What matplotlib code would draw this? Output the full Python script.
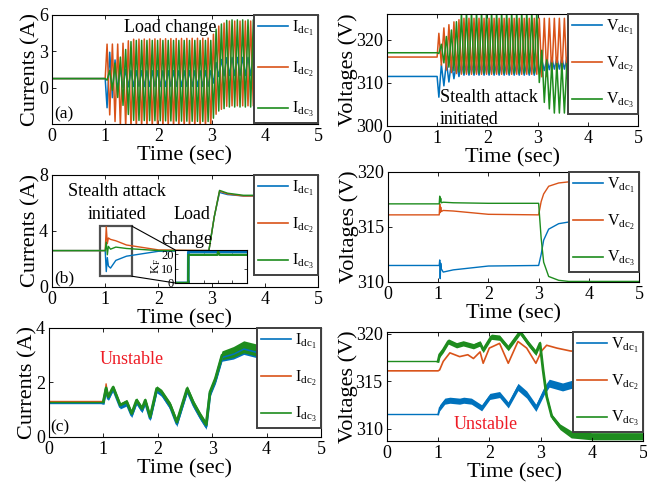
import matplotlib
matplotlib.use("Agg")
import matplotlib.pyplot as plt
import numpy as np
from matplotlib.patches import Rectangle, ConnectionPatch

plt.rcParams["font.family"] = ["Liberation Serif", "DejaVu Serif"]
plt.rcParams["mathtext.fontset"] = "custom"
plt.rcParams["mathtext.rm"] = "Liberation Serif"
plt.rcParams["mathtext.it"] = "Liberation Serif:italic"

C1, C2, C3 = "#0072BD", "#D95319", "#1E8C1E"
RED = "#EE1C25"

# ---- (a) oscillating case: envelope knots ----
osc_freq = 10.0  # Hz
a_env_t = [1.0, 1.04, 1.1, 1.3, 1.5, 3.0, 3.1, 3.3, 5.0]
a_i_pre = 0.75
a_i1_up = [0.75, 3.3, 2.8, 1.6, 1.4, 1.4, 2.2, 2.5, 2.5]
a_i1_lo = [0.75, -2.0, -1.0, 0.0, 0.1, 0.1, 0.9, 1.0, 1.0]
a_i2_up = [0.75, 4.0, 3.6, 3.6, 4.0, 4.1, 5.0, 5.5, 5.5]
a_i2_lo = [0.75, -1.5, -2.5, -3.2, -3.3, -3.3, -2.0, -1.5, -1.5]
a_i3_up = [0.75, 0.9, 1.6, 2.6, 3.9, 3.9, 5.0, 5.6, 5.6]
a_i3_lo = [0.75, 0.6, 0.0, -1.2, -2.7, -2.8, -2.0, -1.6, -1.6]

a_v_pre = [311.5, 316.0, 317.0]
a_v1_up = [311.5, 312.0, 315.0, 314.8, 314.5, 314.5, 315.5, 315.8, 315.8]
a_v1_lo = [311.5, 306.0, 309.0, 310.8, 311.8, 311.8, 312.8, 313.2, 313.2]
a_v2_up = [316.0, 322.3, 322.5, 324.0, 325.0, 325.0, 325.0, 325.0, 325.0]
a_v2_lo = [316.0, 316.0, 313.5, 312.3, 312.0, 312.0, 311.3, 311.7, 311.7]
a_v3_up = [317.0, 317.4, 319.5, 322.5, 326.5, 326.5, 316.0, 314.5, 314.5]
a_v3_lo = [317.0, 316.8, 315.0, 313.0, 312.3, 312.3, 306.0, 303.0, 303.0]

# ---- (b) stable case ----
b_i_t = [0, 1.0, 1.02, 1.04, 1.06, 1.1, 1.2, 1.4, 2.0, 2.95, 3.05, 3.15, 3.3, 3.6, 5.0]
b_i1 = [2.6, 2.6, 1.1, 2.1, 1.5, 1.35, 1.9, 2.2, 2.55, 2.6, 5.0, 6.75, 6.6, 6.5, 6.5]
b_i2 = [2.6, 2.6, 4.3, 3.1, 3.5, 3.4, 3.3, 3.0, 2.65, 2.6, 5.0, 6.85, 6.65, 6.5, 6.5]
b_i3 = [2.6, 2.6, 3.2, 2.3, 2.9, 2.7, 2.85, 2.75, 2.6, 2.6, 5.0, 6.9, 6.7, 6.55, 6.55]

b_v_t = [0, 1.02, 1.03, 1.04, 1.05, 1.06, 1.1, 1.3, 2.0, 3.0, 3.05, 3.1, 3.2, 3.4, 3.6, 4.0, 5.0]
b_v1 = [311.5, 311.5, 312.0, 310.3, 311.7, 311.2, 310.9, 311.1, 311.45, 311.5, 312.5, 313.8, 314.8, 315.3, 315.45, 315.5, 315.5]
b_v2 = [316.1, 316.1, 317.1, 316.3, 316.8, 316.4, 316.5, 316.45, 316.15, 316.1, 317.3, 318.0, 318.7, 319.0, 319.1, 319.1, 319.1]
b_v3 = [317.1, 317.1, 317.8, 317.3, 317.6, 317.2, 317.25, 317.2, 317.15, 317.15, 314.0, 311.8, 310.5, 310.15, 310.05, 310.05, 310.05]

kf_t = [0, 0.92, 0.93, 2.95, 3.0, 3.1, 5.0]
kf_1 = [0, 0, 21.5, 21.5, 22.0, 21.5, 21.5]
kf_3 = [0, 0, 19.5, 19.5, 21.8, 19.5, 19.5]
zoom_t = (0.9, 1.5)
zoom_y = (0.77, 4.35)

# ---- (c) unstable case (centre of band + half width) ----
c_i_t = [0, 1.0, 1.05, 1.09, 1.15, 1.18, 1.31, 1.43, 1.52, 1.61, 1.71, 1.77, 1.86,
         1.98, 2.07, 2.23, 2.35, 2.54, 2.66, 2.78, 2.89, 2.96, 3.06, 3.18, 3.39,
         3.58, 3.82, 4.2, 5.0]
c_i3 = [1.3, 1.3, 1.8, 1.47, 1.72, 1.83, 1.17, 1.29, 0.86, 1.35, 1.04, 1.35, 0.74,
        1.78, 1.65, 1.17, 0.55, 1.78, 1.23, 0.8, 0.45, 1.65, 2.15, 3.0, 3.12,
        3.31, 3.19, 3.1, 3.05]
c_i_w = [0.02, 0.03, 0.07, 0.08, 0.08, 0.08, 0.08, 0.09, 0.09, 0.09, 0.09, 0.09, 0.09,
         0.1, 0.1, 0.11, 0.11, 0.11, 0.11, 0.11, 0.11, 0.11, 0.13, 0.16, 0.2,
         0.22, 0.22, 0.22, 0.22]
c_i1_off = -0.06
c_i2_spike_t = [1.0, 1.03, 1.05, 1.08]
c_i2_spike = [1.3, 1.6, 1.95, 1.55]

c_v_t = [0, 1.0, 1.03, 1.1, 1.2, 1.36, 1.49, 1.69, 1.82, 1.88, 2.04, 2.2, 2.37, 2.6,
         2.76, 2.91, 2.99, 3.05, 3.12, 3.22, 3.38, 3.6, 4.0, 5.0]
c_v3 = [317.1, 317.1, 317.8, 318.3, 319.2, 318.8, 319.0, 318.7, 319.0, 318.3, 319.7,
        319.6, 318.5, 320.2, 319.0, 318.0, 319.0, 316.2, 313.4, 311.3, 310.2, 309.4,
        309.2, 309.2]
c_v3_w = [0.03, 0.03, 0.28, 0.28, 0.28, 0.28, 0.28, 0.28, 0.28, 0.28, 0.28, 0.28, 0.28,
          0.28, 0.28, 0.28, 0.28, 0.2, 0.2, 0.25, 0.3, 0.38, 0.38, 0.38]
c_v2_t = [0, 1.0, 1.03, 1.1, 1.23, 1.42, 1.58, 1.69, 1.82, 1.88, 2.0, 2.2, 2.37, 2.56,
          2.73, 2.91, 3.02, 3.12, 3.32, 3.58, 3.78, 5.0]
c_v2 = [316.1, 316.1, 316.2, 317.1, 318.0, 317.6, 317.8, 317.4, 318.1, 316.9, 318.5,
        319.0, 316.9, 319.2, 318.5, 316.9, 318.2, 318.8, 318.5, 318.2, 318.1, 318.1]
c_v1_t = [0, 1.0, 1.03, 1.13, 1.23, 1.42, 1.5, 1.65, 1.85, 2.01, 2.2, 2.37, 2.56, 2.73,
          2.91, 3.08, 3.17, 3.43, 3.69, 4.2, 5.0]
c_v1 = [311.5, 311.5, 312.2, 312.9, 313.0, 312.9, 313.0, 312.9, 312.2, 313.4, 313.6,
        312.5, 314.4, 313.6, 312.2, 314.1, 314.8, 314.4, 314.8, 314.6, 314.6]
c_v1_w = [0.03, 0.03, 0.32, 0.32, 0.32, 0.32, 0.32, 0.32, 0.32, 0.32, 0.32, 0.32, 0.38, 0.38,
          0.38, 0.42, 0.42, 0.42, 0.42, 0.42, 0.42]

i_labels = [r"$\mathrm{I}_{\mathrm{dc}_{%d}}$" % k for k in (1, 2, 3)]
v_labels = [r"$\mathrm{V}_{\mathrm{dc}_{%d}}$" % k for k in (1, 2, 3)]


def zigzag(pre, env_t, up, lo, start_high):
    """alternate between upper/lower envelope every half period after t=1"""
    half = 0.5 / osc_freq
    tp = np.arange(env_t[0] + 0.035, 5.0, half)
    u = np.interp(tp, env_t, up)
    l = np.interp(tp, env_t, lo)
    k = np.arange(len(tp))
    hi = (k % 2 == 0) if start_high else (k % 2 == 1)
    vals = np.where(hi, u, l)
    t = np.concatenate([[0.0, env_t[0]], tp])
    y = np.concatenate([[pre, pre], vals])
    return t, y


def style(ax, ylim, yticks, ylabel, ypad):
    ax.set_xlim(0, 5)
    ax.set_ylim(*ylim)
    ax.set_yticks(yticks)
    ax.set_xticks(range(6))
    ax.tick_params(direction="in", top=True, right=True, labelsize=13,
                   length=3, width=0.6, pad=3)
    ax.set_xlabel("Time (sec)", fontsize=16, labelpad=1)
    ax.set_ylabel(ylabel, fontsize=16, labelpad=ypad)
    for s in ax.spines.values():
        s.set_linewidth(0.8)


def legend(ax, labels, spacing=1.1):
    handles = [plt.Line2D([], [], color=c, lw=1.2) for c in (C1, C2, C3)]
    lg = ax.legend(handles, labels, loc="upper right", bbox_to_anchor=(1.0, 1.0),
                   borderaxespad=0.0, fontsize=11.5, fancybox=False,
                   framealpha=1, edgecolor="#404040", handlelength=1.9,
                   labelspacing=spacing, borderpad=0.25, handletextpad=0.25)
    lg.get_frame().set_linewidth(1.4)
    return lg


def band(ax, t, mid, half, col, thick=2.0):
    # noisy trace after t=1: filled band plus a heavy centre stroke,
    # thin line before the attack
    mid = np.asarray(mid)
    half = np.asarray(half)
    ax.plot(t[:2], mid[:2], color=col, lw=1.0)
    ax.fill_between(t[1:], (mid - half)[1:], (mid + half)[1:], color=col, lw=0)
    ax.plot(t[1:], mid[1:], color=col, lw=thick)


fig = plt.figure(figsize=(6.47, 4.87), dpi=100)
axa = fig.add_axes([0.0804, 0.7454, 0.411, 0.2238])
axav = fig.add_axes([0.598, 0.7413, 0.388, 0.230])
axb = fig.add_axes([0.0804, 0.4107, 0.411, 0.2300])
axbv = fig.add_axes([0.5997, 0.421, 0.388, 0.2259])
axc = fig.add_axes([0.0757, 0.1027, 0.4204, 0.2238])
axcv = fig.add_axes([0.598, 0.0945, 0.3957, 0.2238])

# (a) currents
for (up, lo, col, hi) in [(a_i1_up, a_i1_lo, C1, False), (a_i2_up, a_i2_lo, C2, True),
                          (a_i3_up, a_i3_lo, C3, False)]:
    t, y = zigzag(a_i_pre, a_env_t, up, lo, hi)
    axa.plot(t, y, color=col, lw=1.1)
style(axa, (-3, 6), [0, 3, 6], "Currents (A)", -1)
legend(axa, i_labels, 1.35)
axa.text(2.23, 5.0, "Load change", fontsize=13, ha="center", va="center")
axa.text(0.05, -2.2, "(a)", fontsize=12.5, ha="left", va="center")

# (a) voltages
for (pre, up, lo, col, hi) in [(a_v_pre[0], a_v1_up, a_v1_lo, C1, False),
                               (a_v_pre[1], a_v2_up, a_v2_lo, C2, True),
                               (a_v_pre[2], a_v3_up, a_v3_lo, C3, False)]:
    t, y = zigzag(pre, a_env_t, up, lo, hi)
    axav.plot(t, y, color=col, lw=1.1)
style(axav, (300, 326), [300, 310, 320], "Voltages (V)", -1.5)
legend(axav, v_labels)
axav.text(1.06, 306.7, "Stealth attack", fontsize=13, ha="left", va="center")
axav.text(1.06, 301.4, "initiated", fontsize=13, ha="left", va="center")

# (b) currents
axb.plot(b_i_t, b_i1, color=C1, lw=1.0)
axb.plot(b_i_t, b_i2, color=C2, lw=1.0)
axb.plot(b_i_t, b_i3, color=C3, lw=1.0)
style(axb, (0, 8), [0, 4, 8], "Currents (A)", -1)
legend(axb, i_labels)
axb.text(1.23, 6.8, "Stealth attack", fontsize=13, ha="center", va="center")
axb.text(1.23, 5.2, "initiated", fontsize=13, ha="center", va="center")
axb.text(2.64, 5.2, "Load", fontsize=13, ha="center", va="center")
axb.text(2.53, 3.4, "change", fontsize=13, ha="center", va="center")
axb.text(0.05, 0.6, "(b)", fontsize=12.5, ha="left", va="center")
axb.add_patch(Rectangle((zoom_t[0], zoom_y[0]), zoom_t[1] - zoom_t[0],
                        zoom_y[1] - zoom_y[0], fill=False, ec="#505050", lw=1.6))

axin = fig.add_axes([0.2705, 0.419, 0.111, 0.068])
axin.plot(kf_t, kf_1, color=C1, lw=2.0)
axin.plot(kf_t, kf_3, color=C3, lw=1.6)
axin.set_xlim(0, 5)
axin.set_ylim(0, 23)
axin.set_yticks([0, 10, 20])
axin.set_xticks(range(6))
axin.set_xticklabels([])
axin.tick_params(direction="in", top=True, right=True, labelsize=9, length=2,
                 width=0.5, pad=1)
axin.set_ylabel(r"$\mathrm{K}_\mathrm{F}$", fontsize=9, labelpad=-1)
for s in axin.spines.values():
    s.set_linewidth(0.8)
for (yc, ya) in [(zoom_y[1], 1.0), (zoom_y[0], 0.0)]:
    cp = ConnectionPatch(xyA=(zoom_t[1], yc), coordsA=axb.transData,
                         xyB=(0.0, ya), coordsB=axin.transAxes,
                         color="black", lw=0.8)
    fig.add_artist(cp)

# (b) voltages
axbv.plot(b_v_t, b_v1, color=C1, lw=1.0)
axbv.plot(b_v_t, b_v2, color=C2, lw=1.0)
axbv.plot(b_v_t, b_v3, color=C3, lw=1.0)
style(axbv, (310, 320), [310, 315, 320], "Voltages (V)", -1.5)
legend(axbv, v_labels)

# (c) currents
c_i3 = np.array(c_i3)
axc.plot(c_i2_spike_t, c_i2_spike, color=C2, lw=1.0)
band(axc, c_i_t, c_i3 + c_i1_off, c_i_w, C1)
axc.plot(c_i_t[:2], c_i3[:2] + 0.02, color=C2, lw=1.0)
band(axc, c_i_t, c_i3, c_i_w, C3)
style(axc, (0, 4), [0, 2, 4], "Currents (A)", -1)
legend(axc, i_labels)
axc.text(1.52, 2.86, "Unstable", fontsize=13, color=RED, ha="center", va="center")
axc.text(0.02, 0.35, "(c)", fontsize=12.5, ha="left", va="center")

# (c) voltages
band(axcv, c_v1_t, c_v1, c_v1_w, C1, thick=1.2)
axcv.plot(c_v2_t, c_v2, color=C2, lw=1.2)
band(axcv, c_v_t, c_v3, c_v3_w, C3)
style(axcv, (308.7, 320.2), [310, 315, 320], "Voltages (V)", -1.5)
legend(axcv, v_labels)
axcv.text(1.93, 310.4, "Unstable", fontsize=13, color=RED, ha="center", va="center")

fig.savefig("out.png", dpi=100)
